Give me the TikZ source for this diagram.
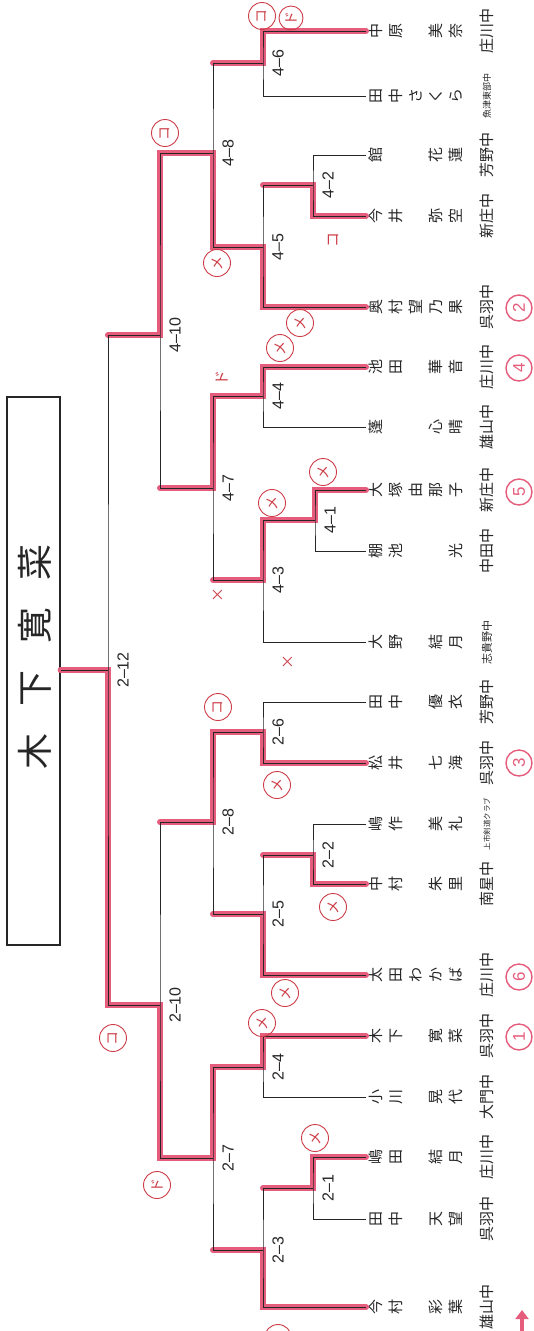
\documentclass[tikz,border=0pt]{standalone}
\usepackage{fontspec}
\setmainfont{Liberation Sans}
\newfontfamily\jp{Noto Sans CJK JP}
\usetikzlibrary{arrows.meta}
\definecolor{hl}{RGB}{230,92,124}
\definecolor{annot}{RGB}{205,62,72}
\definecolor{ink}{RGB}{38,38,38}
\newcommand\plyr[5]{%
  \coordinate (p#1) at (366,#2);
  \foreach \c/\i in {#3} {\node[ch] (c#1-\i) at (356+20*\i,#2) {\c};}
  \node[sch,font=\jp\fontsize{#5}{#5}\selectfont] (s#1) at (487,#2) {#4};
}
\begin{document}
\begin{tikzpicture}[x=1pt,y=-1pt,
  br/.style={draw=ink,line width=1pt},
  win/.style={draw=hl,line width=6pt,line cap=round,xshift=-1.8pt,yshift=1.8pt},
  lab/.style={rotate=90,font=\fontsize{16}{16}\selectfont,text=ink,inner sep=0pt},
  ch/.style={rotate=90,font=\jp\fontsize{15}{15}\selectfont,text=ink,inner sep=0pt},
  sch/.style={rotate=90,text=ink,inner sep=0pt},
  kmk/.style={circle,draw=annot,text=annot,line width=0.9pt,inner sep=0pt,minimum size=27pt,rotate=90,font=\jp\fontsize{14}{14}\selectfont},
  kpl/.style={text=annot,rotate=90,inner sep=0pt,font=\jp\fontsize{15}{15}\selectfont},
  rnum/.style={circle,draw=hl,text=hl,line width=1.4pt,inner sep=0pt,minimum size=26pt,rotate=90,font=\fontsize{17}{17}\selectfont}
]
\useasboundingbox (0,0) rectangle (533,1331);
\fill[white] (0,0) rectangle (533,1331);

% players
\plyr{1}{31}{中/1,原/2,美/4,奈/5}{庄川中}{15}
\plyr{2}{96}{田/1,中/2,さ/3,く/4,ら/5}{魚津東部中}{9}
\plyr{3}{155}{館/1,花/4,蓮/5}{芳野中}{15}
\plyr{4}{216}{今/1,井/2,弥/4,空/5}{新庄中}{15}
\plyr{5}{307}{奥/1,村/2,望/3,乃/4,果/5}{呉羽中}{15}
\plyr{6}{367}{池/1,田/2,華/4,音/5}{庄川中}{15}
\plyr{7}{427}{蓬/1,心/4,晴/5}{雄山中}{15}
\plyr{8}{490}{大/1,塚/2,由/3,那/4,子/5}{新庄中}{15}
\plyr{9}{551}{棚/1,池/2,光/5}{中田中}{15}
\plyr{10}{642}{大/1,野/2,結/4,月/5}{志貴野中}{11}
\plyr{11}{702}{田/1,中/2,優/4,衣/5}{芳野中}{15}
\plyr{12}{763}{松/1,井/2,七/4,海/5}{呉羽中}{15}
\plyr{13}{824}{嶋/1,作/2,美/4,礼/5}{上市剣道クラブ}{7.5}
\plyr{14}{884}{中/1,村/2,朱/4,里/5}{南星中}{15}
\plyr{15}{975}{太/1,田/2,わ/3,か/4,ば/5}{庄川中}{15}
\plyr{16}{1036}{木/1,下/2,寛/4,菜/5}{呉羽中}{15}
\plyr{17}{1097}{小/1,川/2,晃/4,代/5}{大門中}{15}
\plyr{18}{1157}{嶋/1,田/2,結/4,月/5}{庄川中}{15}
\plyr{19}{1219}{田/1,中/2,天/4,望/5}{呉羽中}{15}
\plyr{20}{1307}{今/1,村/2,彩/4,葉/5}{雄山中}{15}

% match joints
\coordinate (m46) at (263,63);
\coordinate (m42) at (313,185);
\coordinate (m45) at (263,247);
\coordinate (m48) at (213,153);
\coordinate (m44) at (263,396);
\coordinate (m41) at (315,520);
\coordinate (m43) at (263,580);
\coordinate (m47) at (213,488);
\coordinate (m410) at (160,335);
\coordinate (m26) at (263,732);
\coordinate (m22) at (313,855);
\coordinate (m25) at (263,914);
\coordinate (m28) at (213,822);
\coordinate (m24) at (263,1067);
\coordinate (m21) at (313,1188);
\coordinate (m23) at (263,1250);
\coordinate (m27) at (213,1158);
\coordinate (m210) at (160,1005);
\coordinate (m212) at (108,670);

% champion box
\node[draw=ink,line width=1.1pt,minimum width=53pt,minimum height=548pt,inner sep=0pt] (box) at (33.5,671) {};
\node[rotate=90,text=ink,inner sep=0pt,font=\jp\fontsize{36}{36}\selectfont] (champ) at (35,657) {木\hspace{27pt}下\hspace{27pt}寛\hspace{27pt}菜};

% winner highlights
\draw[win] (p1) -| (m46) -- (m48 |- m46);
\draw[win] (p4) -| (m42) -- (m45 |- m42);
\draw[win] (p5) -| (m45) -- (m48 |- m45);
\draw[win] (m45) -| (m48) -- (m410 |- m48);
\draw[win] (p6) -| (m44) -- (m47 |- m44);
\draw[win] (p8) -| (m41) -- (m43 |- m41);
\draw[win] (m41) -| (m43) -- (m47 |- m43);
\draw[win] (m44) -| (m47) -- (m410 |- m47);
\draw[win] (m48) -| (m410) -- (m212 |- m410);
\draw[win] (p12) -| (m26) -- (m28 |- m26);
\draw[win] (p14) -| (m22) -- (m25 |- m22);
\draw[win] (p15) -| (m25) -- (m28 |- m25);
\draw[win] (m26) -| (m28) -- (m210 |- m28);
\draw[win] (p16) -| (m24) -- (m27 |- m24);
\draw[win] (p18) -| (m21) -- (m23 |- m21);
\draw[win] (p20) -| (m23) -- (m27 |- m23);
\draw[win] (m24) -| (m27) -- (m210 |- m27);
\draw[win] (m27) -| (m210) -- (m212 |- m210);
\draw[win] (m210) -| (m212) -- (box.east |- m212);

% bracket lines
\draw[br] (p1) -| (m46) |- (p2);
\draw[br] (p3) -| (m42) |- (p4);
\draw[br] (m42) -| (m45) |- (p5);
\draw[br] (m46) -| (m48) |- (m45);
\draw[br] (p6) -| (m44) |- (p7);
\draw[br] (p8) -| (m41) |- (p9);
\draw[br] (m41) -| (m43) |- (p10);
\draw[br] (m44) -| (m47) |- (m43);
\draw[br] (m48) -| (m410) |- (m47);
\draw[br] (p11) -| (m26) |- (p12);
\draw[br] (p13) -| (m22) |- (p14);
\draw[br] (m22) -| (m25) |- (p15);
\draw[br] (m26) -| (m28) |- (m25);
\draw[br] (p16) -| (m24) |- (p17);
\draw[br] (p18) -| (m21) |- (p19);
\draw[br] (m21) -| (m23) |- (p20);
\draw[br] (m24) -| (m27) |- (m23);
\draw[br] (m28) -| (m210) |- (m27);
\draw[br] (m410) -| (m212) |- (m210);
\draw[br] (m212) -- (box.east |- m212);

% match labels
\node[lab] (l46) at (278,63) {4–6};
\node[lab] (l42) at (328,185) {4–2};
\node[lab] (l45) at (278,247) {4–5};
\node[lab] (l48) at (228,153) {4–8};
\node[lab] (l44) at (278,396) {4–4};
\node[lab] (l41) at (330,520) {4–1};
\node[lab] (l43) at (278,580) {4–3};
\node[lab] (l47) at (228,488) {4–7};
\node[lab] (l410) at (175,335) {4–10};
\node[lab] (l26) at (278,732) {2–6};
\node[lab] (l22) at (328,855) {2–2};
\node[lab] (l25) at (278,914) {2–5};
\node[lab] (l28) at (228,822) {2–8};
\node[lab] (l24) at (278,1067) {2–4};
\node[lab] (l21) at (328,1188) {2–1};
\node[lab] (l23) at (278,1250) {2–3};
\node[lab] (l27) at (228,1158) {2–7};
\node[lab] (l210) at (175,1005) {2–10};
\node[lab] (l212) at (123,670) {2–12};

% handwritten marks
\node[kmk] (a1) at (262,16) {コ};
\node[kmk,minimum size=24pt] (a2) at (291,18) {ド};
\node[kmk] (a3) at (165,133) {コ};
\node[kmk] (a4) at (217,263) {メ};
\node[kpl] (a5) at (333,240) {コ};
\node[kmk] (a6) at (300,323) {メ};
\node[kmk] (a7) at (280,348) {メ};
\node[kpl] (a8) at (222,378) {ド};
\node[kmk] (a9) at (323,472) {メ};
\node[kmk] (a10) at (272,503) {メ};
\node[kpl] (a11) at (218,595) {×};
\node[kpl] (a12) at (288,662) {×};
\node[kmk] (a13) at (218,707) {コ};
\node[kmk] (a14) at (277,785) {メ};
\node[kmk] (a15) at (333,907) {メ};
\node[kmk] (a16) at (285,993) {メ};
\node[kmk] (a17) at (262,1023) {メ};
\node[kmk] (a18) at (113,1038) {コ};
\node[kmk] (a19) at (157,1185) {ド};
\node[kmk] (a20) at (315,1138) {メ};
\node[kmk] (a21) at (278,1338) {};

% placing numbers
\node[rnum] (r2) at (519,308) {2};
\node[rnum] (r4) at (519,368) {4};
\node[rnum] (r5) at (519,492) {5};
\node[rnum] (r3) at (519,763) {3};
\node[rnum] (r6) at (519,977) {6};
\node[rnum] (r1) at (519,1037) {1};

% arrow
\coordinate (arb) at (522,1331);
\coordinate (art) at (522,1310);
\draw[-{Triangle[width=13pt,length=9pt]},draw=hl,fill=hl,line width=3.5pt] (arb) -- (art);
\end{tikzpicture}
\end{document}
